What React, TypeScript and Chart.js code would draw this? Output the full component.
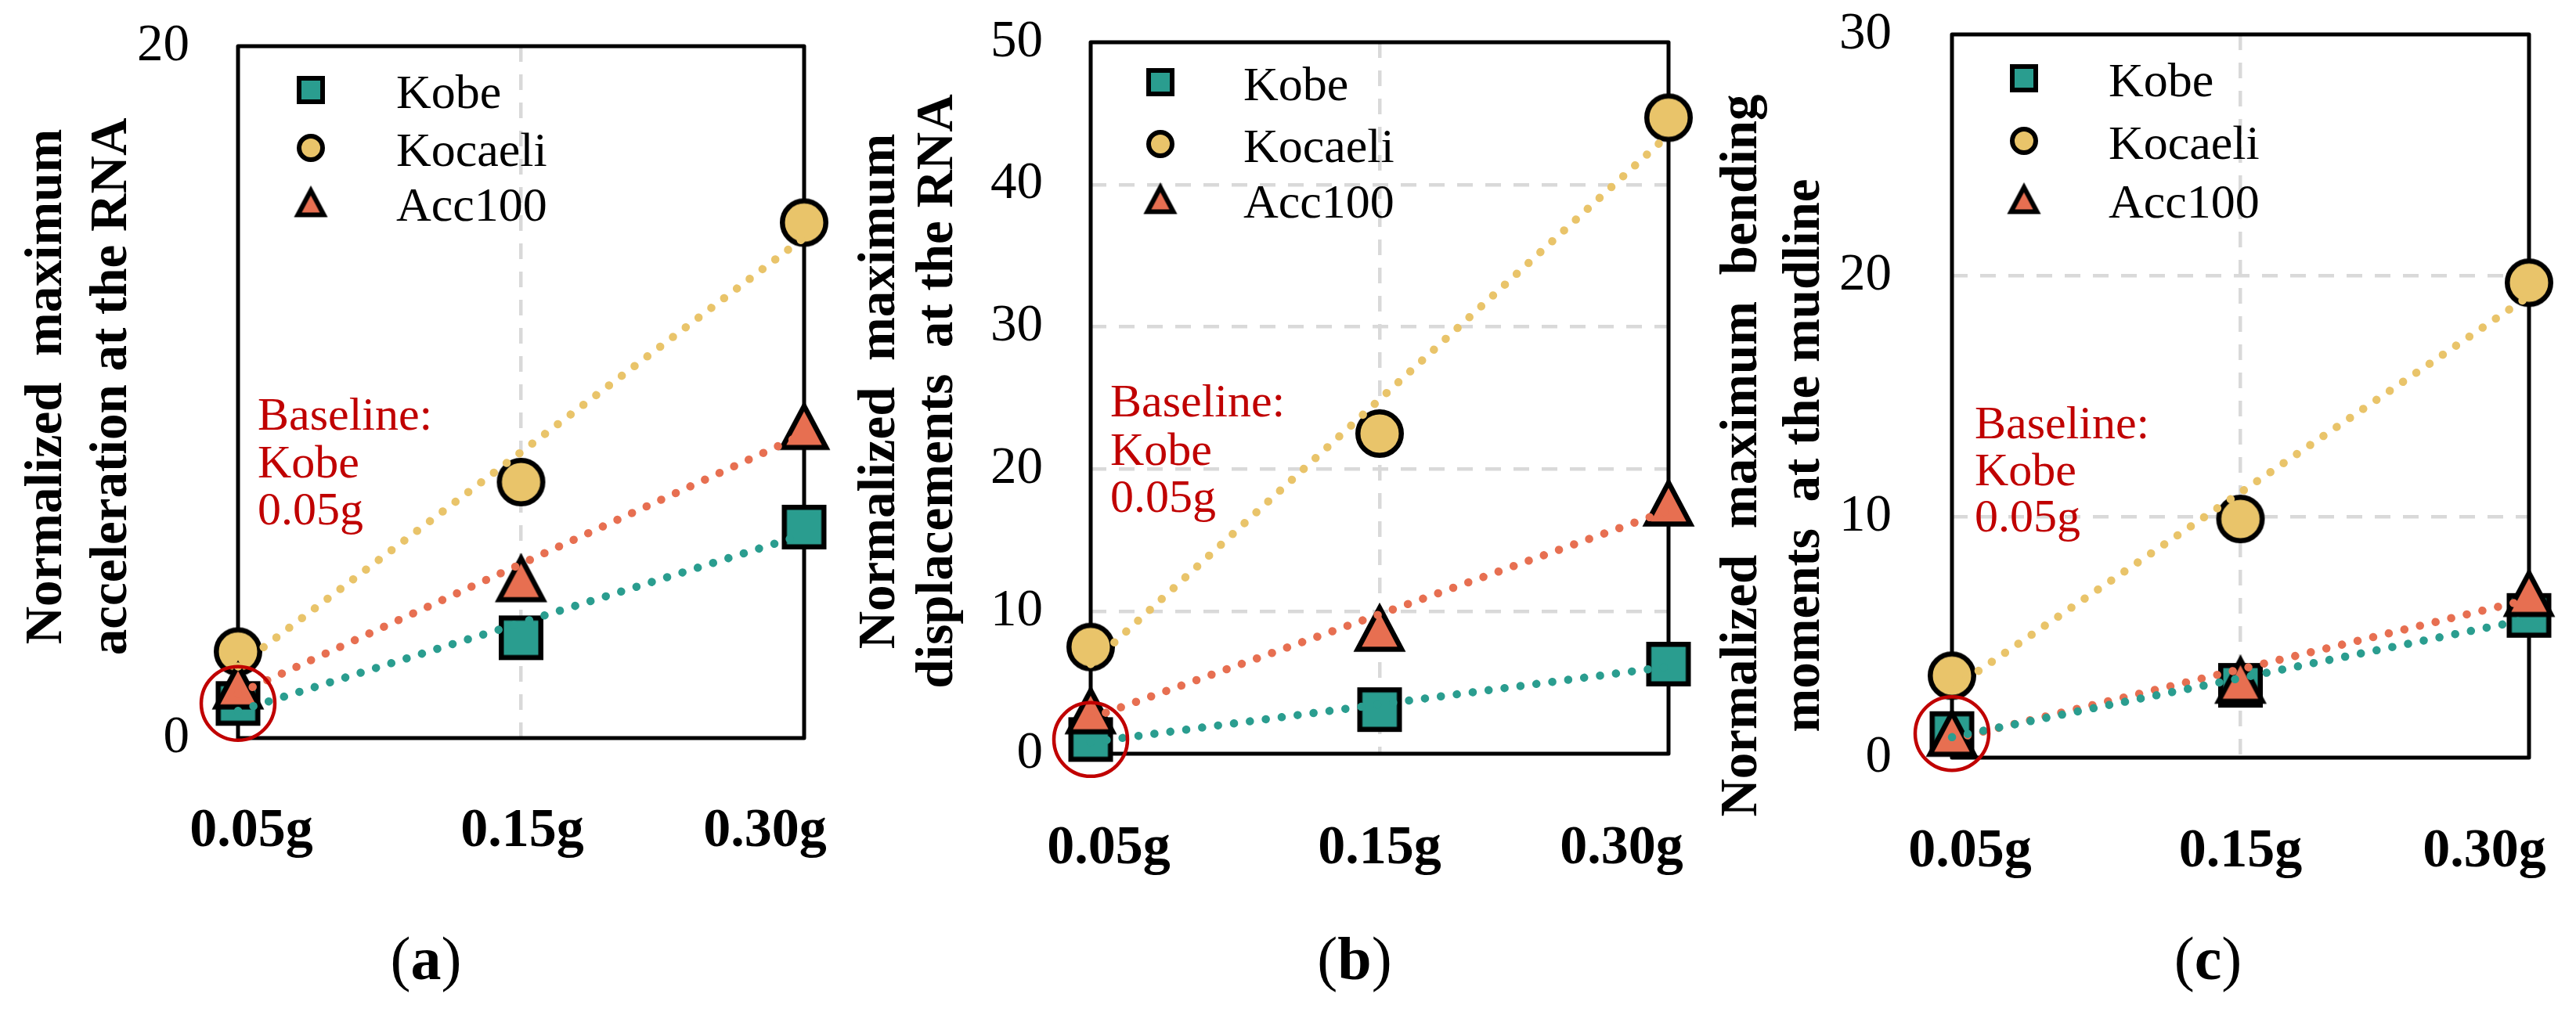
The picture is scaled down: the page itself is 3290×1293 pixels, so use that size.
import React, { useEffect, useRef } from 'react';
import { Chart, registerables } from 'chart.js';

Chart.register(...registerables);

// ---------- data ----------
const categories = ['0.05g', '0.15g', '0.30g'];
const seriesLabels = ['Kobe', 'Kocaeli', 'Acc100'];
const seriesColors = ['#2A9D8F', '#E9C46A', '#E76F51'];

// (a) normalized maximum acceleration at the RNA
const accelKobe = [1.0, 2.9, 6.1];
const accelKocaeli = [2.5, 7.4, 14.9];
const accelAcc100 = [1.5, 4.6, 9.0];
const accelYTicks = [0, 20];

// (b) normalized maximum displacements at the RNA
const dispKobe = [1.0, 3.1, 6.3];
const dispKocaeli = [7.5, 22.5, 44.7];
const dispAcc100 = [3.0, 8.8, 17.6];
const dispYTicks = [0, 10, 20, 30, 40, 50];

// (c) normalized maximum bending moments at the mudline
const momKobe = [1.0, 3.0, 5.9];
const momKocaeli = [3.4, 9.9, 19.7];
const momAcc100 = [1.0, 3.2, 6.8];
const momYTicks = [0, 10, 20, 30];

const accelTitle = ['Normalized  maximum', 'acceleration at the RNA'];
const dispTitle = ['Normalized  maximum', 'displacements  at the RNA'];
const momTitle = ['Normalized  maximum  bending', 'moments  at the mudline'];
const baselineNote = ['Baseline:', 'Kobe', '0.05g'];

// ---------- styling ----------
const SERIF = '"Liberation Serif", "Times New Roman", Times, serif';
const GRID = '#D9D9D9';
const RED = '#C00000';
const H = 1293;

type Kind = 'square' | 'circle' | 'triangle';
const kinds: Kind[] = ['square', 'circle', 'triangle'];

function markerCanvas(kind: Kind, size: number, lw: number, fill: string) {
  const pad = Math.ceil(lw * 1.6) + 2;
  const dim = Math.ceil(size) + pad * 2;
  const c = document.createElement('canvas');
  c.width = dim;
  c.height = dim;
  const g = c.getContext('2d')!;
  const m = dim / 2;
  g.lineWidth = lw;
  g.strokeStyle = '#000';
  g.fillStyle = fill;
  g.lineJoin = 'miter';
  g.miterLimit = 10;
  g.beginPath();
  if (kind === 'square') {
    const s = size - lw;
    g.rect(m - s / 2, m - s / 2, s, s);
  } else if (kind === 'circle') {
    g.arc(m, m, (size - lw) / 2, 0, Math.PI * 2);
  } else {
    const w = size * 0.85;
    const h = size * 0.8;
    g.moveTo(m, m - h / 2);
    g.lineTo(m + w / 2, m + h / 2);
    g.lineTo(m - w / 2, m + h / 2);
    g.closePath();
  }
  g.fill();
  g.stroke();
  return c;
}

const dataMarkerSize: Record<Kind, number> = { square: 57, circle: 62, triangle: 66 };
const legendMarkerSize: Record<Kind, number> = { square: 36, circle: 36, triangle: 39 };

function linearTrend(ys: number[]) {
  const n = ys.length;
  const xs = ys.map((_, i) => i + 1);
  const mx = xs.reduce((a, b) => a + b, 0) / n;
  const my = ys.reduce((a, b) => a + b, 0) / n;
  let sxy = 0;
  let sxx = 0;
  for (let i = 0; i < n; i++) {
    sxy += (xs[i] - mx) * (ys[i] - my);
    sxx += (xs[i] - mx) * (xs[i] - mx);
  }
  const slope = sxy / sxx;
  return xs.map((x) => my + slope * (x - mx));
}

interface PanelCfg {
  letter: string;
  canvasX: number;
  canvasW: number;
  yWidth: number;
  padTop: number;
  padRight: number;
  xHeight: number;
  series: number[][];
  yTicks: number[];
  tickPad: number;
  title: string[];
  titleBase: number[];
  titleCenter: number;
  legend: { mx: number; rows: number[]; tx: number };
  note: { x: number; base: number[] };
  xOff: number[];
  xBase: number;
  letterX: number;
}

const panels: PanelCfg[] = [
  {
    letter: 'a', canvasX: 0, canvasW: 1080, yWidth: 304, padTop: 59, padRight: 53, xHeight: 350,
    series: [accelKobe, accelKocaeli, accelAcc100], yTicks: accelYTicks, tickPad: 62,
    title: accelTitle, titleBase: [77.5, 161], titleCenter: 494,
    legend: { mx: 93, rows: [56, 130, 200], tx: 202 },
    note: { x: 329, base: [549, 610, 670] },
    xOff: [17, 1.5, -50], xBase: 138, letterX: 544,
  },
  {
    letter: 'b', canvasX: 1080, canvasW: 1100, yWidth: 313, padTop: 54, padRight: 49, xHeight: 330,
    series: [dispKobe, dispKocaeli, dispAcc100], yTicks: dispYTicks, tickPad: 61,
    title: dispTitle, titleBase: [62, 136], titleCenter: 500,
    legend: { mx: 89, rows: [51, 130, 201], tx: 195 },
    note: { x: 338, base: [532, 594, 654] },
    xOff: [23, 0, -60], xBase: 140, letterX: 650,
  },
  {
    letter: 'c', canvasX: 2180, canvasW: 1110, yWidth: 313, padTop: 44, padRight: 60, xHeight: 325,
    series: [momKobe, momKocaeli, momAcc100], yTicks: momYTicks, tickPad: 77,
    title: momTitle, titleBase: [63, 143], titleCenter: 582,
    legend: { mx: 92, rows: [56, 136, 211], tx: 200 },
    note: { x: 342, base: [560, 620, 679] },
    xOff: [23, 0, -57], xBase: 139, letterX: 640,
  },
];

function buildConfig(cfg: PanelCfg): any {
  const dataMarkers = kinds.map((k, i) => markerCanvas(k, dataMarkerSize[k], 6.5, seriesColors[i]));
  const legendMarkers = kinds.map((k, i) => markerCanvas(k, legendMarkerSize[k], 6, seriesColors[i]));
  const yMax = cfg.yTicks[cfg.yTicks.length - 1];
  const yStep = cfg.yTicks[1] - cfg.yTicks[0];

  const markerSets = cfg.series.map((data, i) => ({
    type: 'line',
    label: seriesLabels[i],
    data,
    showLine: false,
    pointStyle: dataMarkers[i],
    pointRadius: 30,
    pointHoverRadius: 30,
    borderWidth: 0,
    clip: false,
    order: 3 - i,
  }));
  const trendSets = cfg.series.map((data, i) => ({
    type: 'line',
    label: seriesLabels[i] + ' trend',
    data: linearTrend(data),
    borderColor: seriesColors[i],
    borderWidth: 10.5,
    borderDash: [0.1, 20.4],
    borderCapStyle: 'round',
    pointRadius: 0,
    pointHoverRadius: 0,
    fill: false,
    tension: 0,
    clip: false,
    order: 0,
  }));

  const framePlugin = {
    id: 'frame' + cfg.letter,
    beforeDatasetsDraw(chart: any) {
      const { ctx, chartArea: a } = chart;
      ctx.save();
      ctx.lineWidth = 5;
      ctx.strokeStyle = '#000';
      ctx.lineJoin = 'round';
      ctx.strokeRect(a.left, a.top, a.right - a.left, a.bottom - a.top);
      ctx.restore();
    },
  };

  const textPlugin = {
    id: 'texts' + cfg.letter,
    afterDatasetsDraw(chart: any) {
      const { ctx, chartArea: a } = chart;
      const xs = chart.scales.x;
      const ys = chart.scales.y;
      ctx.save();

      // x category labels
      ctx.font = `bold 70px ${SERIF}`;
      ctx.fillStyle = '#000';
      ctx.textAlign = 'center';
      ctx.textBaseline = 'alphabetic';
      categories.forEach((lab, i) => {
        ctx.fillText(lab, xs.getPixelForValue(i) + cfg.xOff[i], a.bottom + cfg.xBase);
      });

      // y axis title (rotated, two lines)
      ctx.font = `bold 67px ${SERIF}`;
      cfg.title.forEach((t, i) => {
        ctx.save();
        ctx.translate(cfg.titleBase[i], cfg.titleCenter);
        ctx.rotate(-Math.PI / 2);
        ctx.textAlign = 'center';
        ctx.fillText(t, 0, 0);
        ctx.restore();
      });

      // legend
      ctx.font = `62px ${SERIF}`;
      ctx.textAlign = 'left';
      seriesLabels.forEach((lab, i) => {
        const m = legendMarkers[i];
        const cy = a.top + cfg.legend.rows[i];
        const cx = a.left + cfg.legend.mx;
        ctx.drawImage(m, cx - m.width / 2, cy - m.height / 2);
        ctx.fillStyle = '#000';
        ctx.fillText(lab, a.left + cfg.legend.tx, cy + 23);
      });

      // baseline note
      ctx.font = `60px ${SERIF}`;
      ctx.fillStyle = RED;
      baselineNote.forEach((t, i) => ctx.fillText(t, cfg.note.x, cfg.note.base[i]));

      // red circle around the baseline point
      const px = xs.getPixelForValue(0);
      const py = ys.getPixelForValue(cfg.series[0][0]);
      ctx.beginPath();
      ctx.arc(px, py, 47, 0, Math.PI * 2);
      ctx.lineWidth = 4.5;
      ctx.strokeStyle = RED;
      ctx.stroke();

      // panel letter "(a)"
      ctx.fillStyle = '#000';
      ctx.textAlign = 'left';
      const regular = `78px ${SERIF}`;
      const bold = `bold 78px ${SERIF}`;
      ctx.font = regular;
      const wOpen = ctx.measureText('(').width;
      const wClose = ctx.measureText(')').width;
      ctx.font = bold;
      const wL = ctx.measureText(cfg.letter).width;
      const total = wOpen + wL + wClose;
      let x0 = cfg.letterX - total / 2;
      const by = 1251;
      ctx.font = regular;
      ctx.fillText('(', x0, by);
      x0 += wOpen;
      ctx.font = bold;
      ctx.fillText(cfg.letter, x0, by);
      x0 += wL;
      ctx.font = regular;
      ctx.fillText(')', x0, by);

      ctx.restore();
    },
  };

  const zeroPad = (s: any) => {
    s.paddingTop = 0;
    s.paddingBottom = 0;
    s.paddingLeft = 0;
    s.paddingRight = 0;
  };

  return {
    type: 'line',
    data: { labels: categories, datasets: [...trendSets, ...markerSets] },
    options: {
      responsive: false,
      maintainAspectRatio: false,
      animation: false,
      events: [],
      layout: { padding: { left: 0, top: cfg.padTop, right: cfg.padRight, bottom: 0 }, autoPadding: false },
      plugins: { legend: { display: false }, tooltip: { enabled: false }, title: { display: false } },
      scales: {
        x: {
          type: 'category',
          offset: false,
          grid: {
            color: (c: any) => (c.index === 1 ? GRID : 'rgba(0,0,0,0)'),
            lineWidth: 4.5,
            drawTicks: false,
          },
          border: { display: false, dash: [20, 16] },
          ticks: { display: false },
          afterFit: (s: any) => {
            s.height = cfg.xHeight;
            zeroPad(s);
          },
        },
        y: {
          type: 'linear',
          min: 0,
          max: yMax,
          grid: {
            color: (c: any) =>
              c.tick && (c.tick.value === 0 || c.tick.value === yMax) ? 'rgba(0,0,0,0)' : GRID,
            lineWidth: 4.5,
            drawTicks: false,
          },
          border: { display: false, dash: [20, 16] },
          ticks: {
            stepSize: yStep,
            padding: cfg.tickPad,
            color: '#000',
            font: { family: SERIF, size: 67 },
          },
          afterFit: (s: any) => {
            s.width = cfg.yWidth;
            zeroPad(s);
          },
        },
      },
    },
    plugins: [framePlugin, textPlugin],
  };
}

function Panel({ cfg }: { cfg: PanelCfg }) {
  const ref = useRef<HTMLCanvasElement>(null);
  useEffect(() => {
    const chart = new Chart(ref.current as HTMLCanvasElement, buildConfig(cfg));
    return () => chart.destroy();
  }, [cfg]);
  return (
    <canvas
      ref={ref}
      width={cfg.canvasW}
      height={H}
      style={{ position: 'absolute', left: cfg.canvasX, top: 0, width: cfg.canvasW, height: H }}
    />
  );
}

export default function App() {
  return (
    <div style={{ position: 'absolute', left: 0, top: 0, width: 3290, height: H, background: '#fff', overflow: 'hidden' }}>
      {panels.map((p) => (
        <Panel key={p.letter} cfg={p} />
      ))}
    </div>
  );
}
